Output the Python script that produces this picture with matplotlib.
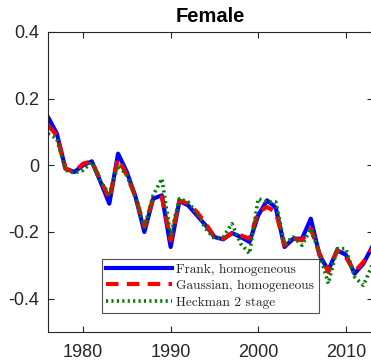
import numpy as np
from matplotlib import pyplot as plt

plt.rcParams['axes.unicode_minus'] = False

years = np.arange(1976, 2014)

frank = [0.145, 0.096, -0.01, -0.02, 0.0, 0.012, -0.05, -0.115, 0.035, -0.02,
         -0.095, -0.2, -0.1, -0.09, -0.245, -0.107, -0.12, -0.15, -0.18, -0.215,
         -0.222, -0.203, -0.215, -0.23, -0.15, -0.105, -0.127, -0.245, -0.22, -0.22,
         -0.16, -0.27, -0.315, -0.255, -0.268, -0.325, -0.295, -0.245]

gaussian = [0.12, 0.09, -0.01, -0.02, 0.005, 0.012, -0.045, -0.1, 0.02, -0.03,
            -0.095, -0.185, -0.1, -0.095, -0.225, -0.105, -0.115, -0.14, -0.175, -0.215,
            -0.22, -0.205, -0.21, -0.22, -0.14, -0.125, -0.14, -0.24, -0.22, -0.225,
            -0.19, -0.265, -0.32, -0.255, -0.275, -0.32, -0.29, -0.25]

heckman = [0.095, 0.08, -0.015, -0.023, -0.015, 0.01, -0.05, -0.085, 0.0, -0.03,
           -0.1, -0.185, -0.09, -0.04, -0.21, -0.1, -0.11, -0.145, -0.19, -0.22,
           -0.215, -0.175, -0.235, -0.265, -0.1, -0.11, -0.11, -0.235, -0.215, -0.24,
           -0.19, -0.265, -0.355, -0.25, -0.25, -0.335, -0.36, -0.3]

labels = ['Frank, homogeneous', 'Gaussian, homogeneous', 'Heckman 2 stage']
yticks = [-0.4, -0.2, 0, 0.2, 0.4]
yticklabels = ['-0.4', '-0.2', '0', '0.2', '0.4']
xticks = [1980, 1990, 2000, 2010]

fig = plt.figure(figsize=(3.71, 3.62), dpi=100)
ax = fig.add_axes([48/371, 30/362, 325/371, 300/362])

ax.plot(years, frank, '-', color=(0, 0, 1), lw=3.0, label=labels[0])
ax.plot(years, gaussian, '--', color=(1, 0, 0), lw=3.0, dashes=(3, 2), label=labels[1])
ax.plot(years, heckman, ':', color=(0, 0.5, 0), lw=2.6, dashes=(0.6, 0.9), label=labels[2])

ax.set_xlim(1976, 2013.1)
ax.set_ylim(-0.5, 0.4)
ax.set_xticks(xticks)
ax.set_yticks(yticks)
ax.set_yticklabels(yticklabels)
ax.tick_params(direction='in', length=4, width=0.8, top=True, right=True,
               labelsize=13, colors='#262626')
ax.tick_params(axis='x', pad=8.5)
ax.tick_params(axis='y', pad=6.5)
for lab in ax.get_xticklabels() + ax.get_yticklabels():
    lab.set_family('Liberation Sans')
for s in ax.spines.values():
    s.set_color('#262626')
    s.set_linewidth(0.8)

ax.set_title('Female', fontsize=14.5, fontweight='bold', family='Liberation Sans', pad=7)

leg = ax.legend(loc='lower left', bbox_to_anchor=(0.165, 0.062), frameon=True,
                fancybox=False, handlelength=4.9, handletextpad=0.35,
                borderpad=0.35, labelspacing=0.32, borderaxespad=0,
                prop={'family': 'cmr10', 'size': 9.6})
leg.get_frame().set_edgecolor('#262626')
leg.get_frame().set_linewidth(0.8)
for t in leg.get_texts():
    t.set_color('#262626')

fig.savefig('out.png', dpi=100)
